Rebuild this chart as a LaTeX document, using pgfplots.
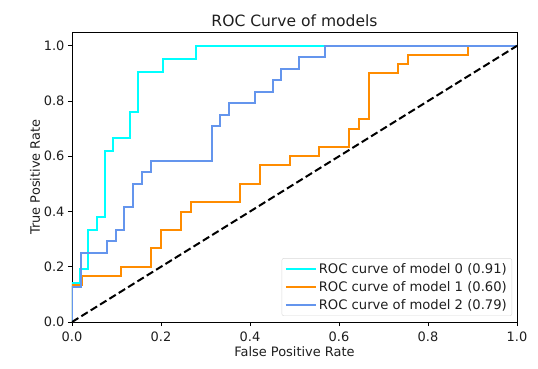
\documentclass[border=0pt]{standalone}
\usepackage{pgfplots}
\pgfplotsset{compat=1.18}
\usepackage{fontspec}
\setmainfont{DejaVu Sans}
\definecolor{aqua}{RGB}{0,255,255}
\definecolor{darkorange}{RGB}{255,140,0}
\definecolor{cornflower}{RGB}{100,149,237}
\definecolor{txt}{RGB}{30,30,30}
\begin{document}
\begin{tikzpicture}
\begin{axis}[
  scale only axis,
  width=445bp, height=290bp,
  xmin=0, xmax=1, ymin=0, ymax=1.05,
  xtick={0,0.2,0.4,0.6,0.8,1.0},
  ytick={0,0.2,0.4,0.6,0.8,1.0},
  /pgf/number format/assume math mode=true,
  /pgf/number format/.cd, fixed, fixed zerofill, precision=1, /pgfplots/.cd,
  tick label style={font=\fontsize{13}{15}\selectfont, text=txt},
  xticklabel style={yshift=-2bp},
  label style={font=\fontsize{13}{15}\selectfont, text=txt},
  title style={font=\fontsize{15.6}{18}\selectfont, text=txt, yshift=-4bp},
  title={ROC Curve of models},
  xlabel={False Positive Rate},
  ylabel={True Positive Rate},
  xlabel style={yshift=1bp},
  ylabel style={yshift=-3bp},
  tick align=outside,
  major tick length=4bp,
  tick style={black, line width=0.8bp},
  xtick pos=bottom, ytick pos=left,
  axis line style={black, line width=0.8bp},
  legend cell align=left,
  legend style={at={(1,0)}, anchor=south east, xshift=-5bp, yshift=6bp,
    draw=black!15, rounded corners=2bp, fill=white, fill opacity=0.8, text opacity=1,
    font=\fontsize{13.2}{16}\selectfont, text=txt, inner sep=3bp,
    row sep=2.5bp},
  legend image code/.code={\draw[#1, line width=2bp] (0bp,0bp) -- (30bp,0bp);},
]
\addplot[aqua, line width=2bp] coordinates {
(0,0)(0,0.1429)(0.0185,0.1429)(0.0185,0.1905)(0.0370,0.1905)(0.0370,0.3333)
(0.0556,0.3333)(0.0556,0.3810)(0.0741,0.3810)(0.0741,0.6190)(0.0926,0.6190)
(0.0926,0.6667)(0.1296,0.6667)(0.1296,0.7619)(0.1481,0.7619)(0.1481,0.9048)
(0.2037,0.9048)(0.2037,0.9524)(0.2778,0.9524)(0.2778,1)(1,1)};
\addlegendentry{ROC curve of model 0 (0.91)}
\addplot[darkorange, line width=2bp] coordinates {
(0,0)(0,0.1333)(0.0222,0.1333)(0.0222,0.1667)(0.1111,0.1667)(0.1111,0.2)
(0.1778,0.2)(0.1778,0.2667)(0.2,0.2667)(0.2,0.3333)(0.2444,0.3333)(0.2444,0.4)
(0.2667,0.4)(0.2667,0.4333)(0.3778,0.4333)(0.3778,0.5)(0.4222,0.5)(0.4222,0.5667)
(0.4889,0.5667)(0.4889,0.6)(0.5556,0.6)(0.5556,0.6333)(0.6222,0.6333)(0.6222,0.7)
(0.6444,0.7)(0.6444,0.7333)(0.6667,0.7333)(0.6667,0.9)(0.7333,0.9)(0.7333,0.9333)
(0.7556,0.9333)(0.7556,0.9667)(0.8889,0.9667)(0.8889,1)(1,1)};
\addlegendentry{ROC curve of model 1 (0.60)}
\addplot[cornflower, line width=2bp] coordinates {
(0,0)(0,0.125)(0.0196,0.125)(0.0196,0.25)(0.0784,0.25)(0.0784,0.2917)
(0.0980,0.2917)(0.0980,0.3333)(0.1176,0.3333)(0.1176,0.4167)(0.1373,0.4167)
(0.1373,0.5)(0.1569,0.5)(0.1569,0.5417)(0.1765,0.5417)(0.1765,0.5833)
(0.3137,0.5833)(0.3137,0.7083)(0.3333,0.7083)(0.3333,0.75)(0.3529,0.75)
(0.3529,0.7917)(0.4118,0.7917)(0.4118,0.8333)(0.4510,0.8333)(0.4510,0.875)
(0.4706,0.875)(0.4706,0.9167)(0.5098,0.9167)(0.5098,0.9583)(0.5686,0.9583)
(0.5686,1)(1,1)};
\addlegendentry{ROC curve of model 2 (0.79)}
\addplot[black, line width=2bp, dash pattern=on 7.5bp off 3.5bp, forget plot]
  coordinates {(0,0)(1,1)};
\end{axis}
\path (current axis.south west) ++(-72bp,-47bp) coordinate (bbA);
\path (current axis.north east) ++(21bp,32bp) coordinate (bbB);
\path (bbA) rectangle (bbB);
\end{tikzpicture}
\end{document}
